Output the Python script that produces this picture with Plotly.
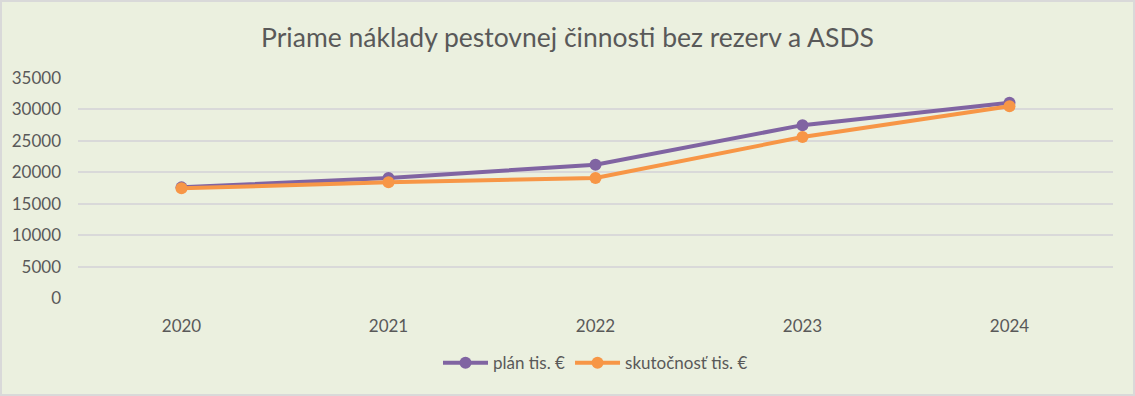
import plotly.graph_objects as go

years = ["2020", "2021", "2022", "2023", "2024"]
plan = [17600, 19100, 21200, 27500, 31050]
actual = [17450, 18400, 19100, 25600, 30500]
y_ticks = [0, 5000, 10000, 15000, 20000, 25000, 30000, 35000]

purple = "#8064A2"
orange = "#F79646"
bg = "#EBF0DF"
txt = "#595959"
font = "Lato, Open Sans, sans-serif"

fig = go.Figure()
fig.add_trace(go.Scatter(x=years, y=plan, name="plán tis. €", mode="lines+markers",
                         line=dict(color=purple, width=4), marker=dict(size=12, color=purple)))
fig.add_trace(go.Scatter(x=years, y=actual, name="skutočnosť tis. €", mode="lines+markers",
                         line=dict(color=orange, width=4), marker=dict(size=12, color=orange)))

fig.update_layout(
    width=1135, height=396,
    paper_bgcolor=bg, plot_bgcolor=bg,
    margin=dict(l=78, r=22, t=78, b=98, autoexpand=False),
    title=dict(text="Priame náklady pestovnej činnosti bez rezerv a ASDS",
               x=0.5, xanchor="center", yref="container", y=0.904, yanchor="middle",
               font=dict(family=font, size=26.5, color=txt)),
    font=dict(family=font, size=17, color=txt),
    showlegend=True,
    legend=dict(orientation="h", x=0.5, xanchor="center", yref="container", y=0.083,
                yanchor="middle", font=dict(size=17, color=txt), itemwidth=45,
                bgcolor="rgba(0,0,0,0)"),
    xaxis=dict(type="category", range=[-0.5, 4.5], showgrid=False, zeroline=False,
               showline=False, ticks="", tickfont=dict(size=17, color=txt),
               ticklabelstandoff=16),
    yaxis=dict(range=[0, 35000], tickvals=y_ticks, ticktext=[str(v) for v in y_ticks],
               showgrid=True, gridcolor="#D9D9D9", gridwidth=2, zeroline=False,
               showline=False, ticks="", tickfont=dict(size=17, color=txt),
               ticklabelstandoff=16),
    shapes=[dict(type="rect", xref="paper", yref="paper", x0=-77/1035, x1=1+21/1035,
                 y0=-97/220, y1=1+77/220, line=dict(color="#D9D9D9", width=2))],
)
fig.write_html("out.html", config={"displayModeBar": False},
               post_script="document.body.style.margin='0';document.body.style.overflow='hidden';")
